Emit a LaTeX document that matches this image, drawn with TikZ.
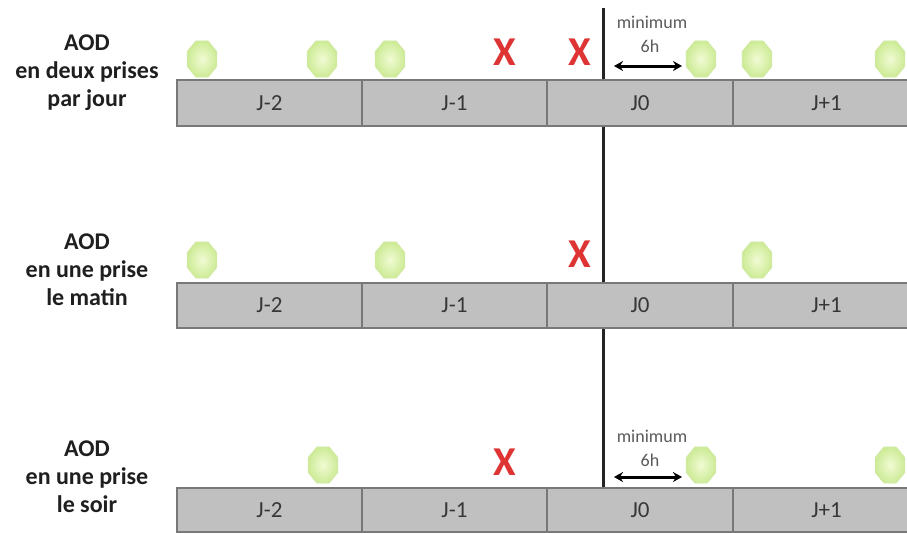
\documentclass[tikz,border=0pt]{standalone}
\usepackage{fontspec}
\setmainfont{Carlito}
\usetikzlibrary{shapes.geometric,arrows.meta}
\definecolor{barfill}{RGB}{192,192,192}
\definecolor{barline}{RGB}{120,120,120}
\definecolor{daytext}{RGB}{55,55,55}
\definecolor{pillin}{RGB}{240,251,212}
\definecolor{pillout}{RGB}{205,235,150}
\definecolor{pillline}{RGB}{210,233,168}
\definecolor{xred}{RGB}{222,52,52}
\definecolor{axis}{RGB}{35,35,35}
\definecolor{mintext}{RGB}{90,90,90}
\tikzset{
  daycell/.style={draw=barline, line width=1.3pt, fill=barfill},
  daylabel/.style={text=daytext, font=\fontsize{23}{23}\selectfont, inner sep=0pt},
  pill/.style={regular polygon, regular polygon sides=8, minimum size=39pt, xscale=0.82,
    inner sep=0pt, draw=pillline, line width=0.8pt, shading=radial, inner color=pillin, outer color=pillout},
  cross/.style={text=xred, font=\bfseries\fontsize{41}{41}\selectfont, inner sep=0pt},
  rowlabel/.style={align=center, font=\bfseries\fontsize{24}{28}\selectfont, text=black!88, inner sep=0pt, anchor=base},
  mintxt/.style={text=mintext, font=\fontsize{18}{18}\selectfont, inner sep=0pt},
  gap/.style={line width=3pt, {Stealth[length=9pt,width=10pt]}-{Stealth[length=9pt,width=10pt]}},
}
\begin{document}
\begin{tikzpicture}[x=1pt,y=-1pt]
\useasboundingbox (0,0) rectangle (907,533);
\clip (0,0) rectangle (907,533);
\fill[white] (0,0) rectangle (907,533);
% vertical reference line (under the bars)
\coordinate (vtop) at (603.5,8);
\coordinate (vbot) at (603.5,489);
\draw[axis, line width=2.6pt] (vtop) -- (vbot);
% bars
\foreach \r/\yt/\yb in {1/80/126, 2/283/328, 3/488/532}{
  \foreach \c/\xa/\xb/\lab in {1/177/362/J-2, 2/362/547/J-1, 3/547/733/J0, 4/733/920/J+1}{
    \draw[daycell] (\xa,\yt) rectangle (\xb,\yb);
    \node[daylabel] (d\r\c) at ({(\xa+\xb)/2},{(\yt+\yb)/2}) {\lab};
  }
}
% row labels (anchor = baseline of the last line)
\node[rowlabel] (lab1) at (87,106) {AOD\\en deux prises\\par jour};
\node[rowlabel] (lab2) at (87,305) {AOD\\en une prise\\le matin};
\node[rowlabel] (lab3) at (87,512) {AOD\\en une prise\\le soir};
% row 1
\foreach \i/\x in {1/202,2/322,3/390,4/701,5/757,6/890}{
  \node[pill] (pa\i) at (\x,59) {};
}
\node[cross] (xa1) at (505,52) {X};
\node[cross] (xa2) at (580,52) {X};
\node[mintxt] (ma) at (652,22) {minimum};
\node[mintxt] (ha) at (650,46) {6h};
\coordinate (aa1) at (614,66);
\coordinate (aa2) at (682,66);
\draw[gap] (aa1) -- (aa2);
% row 2
\foreach \i/\x in {1/202,2/390,3/757}{
  \node[pill] (pb\i) at (\x,260) {};
}
\node[cross] (xb1) at (580,254) {X};
% row 3
\foreach \i/\x in {1/323,2/701,3/890}{
  \node[pill] (pc\i) at (\x,465) {};
}
\node[cross] (xc1) at (505,462) {X};
\node[mintxt] (mc) at (652,436) {minimum};
\node[mintxt] (hc) at (650,460) {6h};
\coordinate (ac1) at (614,477);
\coordinate (ac2) at (682,477);
\draw[gap] (ac1) -- (ac2);
\end{tikzpicture}
\end{document}
